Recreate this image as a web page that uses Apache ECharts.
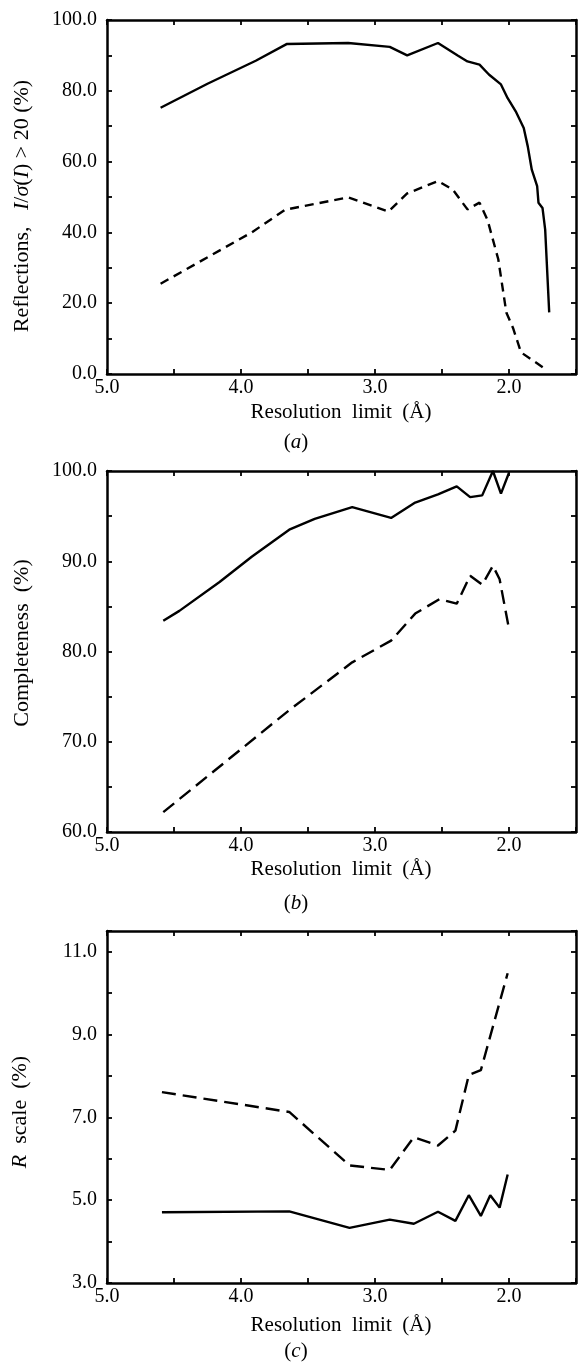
<!DOCTYPE html>
<html><head><meta charset="utf-8">
<script src="https://cdn.jsdelivr.net/npm/echarts@6/dist/echarts.min.js"></script>
<style>html,body{margin:0;padding:0;background:#fff}#c{width:579px;height:1363px}</style>
</head><body><div id="c"></div>
<script>
// Panel (a): reflections with I/sigma(I) > 20 (%)
const aSolidRes = [4.60, 4.25, 3.89, 3.66, 3.20, 2.89, 2.76, 2.53, 2.38, 2.31, 2.22, 2.15, 2.06, 2.01, 1.95, 1.89, 1.86, 1.83, 1.79, 1.78, 1.75, 1.73, 1.70];
const aSolidVal = [75.2, 82.0, 88.5, 93.2, 93.5, 92.4, 90.0, 93.5, 89.9, 88.3, 87.4, 84.6, 81.8, 77.9, 74.2, 69.5, 64.3, 57.7, 53.1, 48.4, 46.9, 40.8, 17.4];
const aDashRes = [4.60, 3.92, 3.67, 3.20, 2.90, 2.76, 2.53, 2.42, 2.31, 2.22, 2.16, 2.08, 2.02, 1.97, 1.91, 1.72];
const aDashVal = [25.5, 40.0, 46.4, 49.9, 45.9, 51.0, 54.5, 52.1, 46.5, 48.4, 43.5, 32.4, 17.4, 13.0, 6.1, 1.2];
// Panel (b): completeness (%)
const bSolidRes = [4.58, 4.46, 4.16, 3.92, 3.64, 3.45, 3.17, 2.88, 2.70, 2.53, 2.39, 2.29, 2.20, 2.12, 2.06, 2.00];
const bSolidVal = [83.4, 84.5, 87.7, 90.5, 93.5, 94.7, 96.0, 94.8, 96.5, 97.4, 98.3, 97.1, 97.3, 100.0, 97.5, 99.8];
const bDashRes = [4.58, 3.64, 3.17, 2.88, 2.70, 2.52, 2.39, 2.29, 2.20, 2.12, 2.07, 2.00];
const bDashVal = [62.2, 73.5, 78.8, 81.2, 84.2, 85.8, 85.3, 88.4, 87.4, 89.5, 88.0, 82.5];
// Panel (c): R scale (%)
const cSolidRes = [4.59, 3.64, 3.19, 2.89, 2.71, 2.53, 2.40, 2.30, 2.21, 2.14, 2.07, 2.01];
const cSolidVal = [4.71, 4.73, 4.33, 4.53, 4.43, 4.72, 4.50, 5.12, 4.62, 5.12, 4.82, 5.62];
const cDashRes = [4.59, 3.64, 3.19, 2.89, 2.71, 2.53, 2.40, 2.30, 2.21, 2.01];
const cDashVal = [7.61, 7.13, 5.84, 5.73, 6.52, 6.32, 6.68, 8.02, 8.14, 10.48];

// Axis scales / tick labels
const xMin = 1.5, xMax = 5.0, xStep = 0.5;
const xLabelValues = [2.0, 3.0, 4.0, 5.0];
const yScales = [
  {min: 0, max: 100, step: 10, labels: [0, 20, 40, 60, 80, 100]},
  {min: 60, max: 100, step: 5, labels: [60, 70, 80, 90, 100]},
  {min: 3, max: 11.5, step: 1, labels: [3, 5, 7, 9, 11]}
];
const xTitle = 'Resolution  limit  (Å)';
const captions = ['a', 'b', 'c'];

const FONT = 'Liberation Serif, Times New Roman, serif';
const pairs = (xs, ys) => xs.map((x, i) => [x, ys[i]]);

const grids = [
  {left: 107, top: 20, width: 469, height: 354},
  {left: 107, top: 471, width: 469, height: 361},
  {left: 107, top: 931, width: 469, height: 352}
];

const lineW = 2.5;
const xAxes = [], yAxes = [];
grids.forEach((g, i) => {
  const base = {
    type: 'value', gridIndex: i, min: xMin, max: xMax, interval: xStep, inverse: true,
    splitLine: {show: false},
    axisLine: {show: true, onZero: false, lineStyle: {color: '#000', width: lineW}},
    axisTick: {show: true, inside: true, length: 5, lineStyle: {color: '#000', width: 1.8}}
  };
  xAxes.push(Object.assign({}, base, {
    position: 'bottom',
    axisLabel: {show: true, margin: 4, color: '#000', fontFamily: FONT, fontSize: 20,
      formatter: v => xLabelValues.includes(v) ? v.toFixed(1) : ''}
  }));
  xAxes.push(Object.assign({}, base, {position: 'top', axisLabel: {show: false}}));
  const s = yScales[i];
  const ybase = {
    type: 'value', gridIndex: i, min: s.min, max: s.max, interval: s.step,
    splitLine: {show: false},
    axisLine: {show: true, onZero: false, lineStyle: {color: '#000', width: lineW}},
    axisTick: {show: true, inside: true, length: 5, lineStyle: {color: '#000', width: 1.8}}
  };
  yAxes.push(Object.assign({}, ybase, {
    position: 'left',
    axisLabel: {show: true, margin: 10, color: '#000', fontFamily: FONT, fontSize: 20,
      showMaxLabel: true,
      formatter: v => s.labels.includes(v) ? v.toFixed(1) : ''}
  }));
  yAxes.push(Object.assign({}, ybase, {position: 'right', axisLabel: {show: false}}));
});

const mk = (i, data, dashed, dash) => ({
  type: 'line', xAxisIndex: 2 * i, yAxisIndex: 2 * i, data: data,
  showSymbol: false, symbol: 'none', silent: true, animation: false,
  lineStyle: {color: '#000', width: 2.4, type: dashed ? dash : 'solid'}
});

const series = [
  mk(0, pairs(aSolidRes, aSolidVal), false),
  mk(0, pairs(aDashRes, aDashVal), true, [9, 6]),
  mk(1, pairs(bSolidRes, bSolidVal), false),
  mk(1, pairs(bDashRes, bDashVal), true, [14, 7]),
  mk(2, pairs(cSolidRes, cSolidVal), false),
  mk(2, pairs(cDashRes, cDashVal), true, [14, 7])
];

const mkRich = (fs) => ({
  n: {fontFamily: FONT, fontSize: fs, fill: '#000', color: '#000'},
  i: {fontFamily: FONT, fontSize: fs, fontStyle: 'italic', fill: '#000', color: '#000'}
});
const txt = (x, y, text, fs, rot) => ({
  type: 'text', x: x, y: y, rotation: rot || 0, silent: true,
  style: {text: text, rich: mkRich(fs), font: fs + 'px ' + FONT, fill: '#000', align: 'center', verticalAlign: 'middle'}
});

const xTitleY = [412, 869, 1325];
const capY = [442, 903, 1351];
const graphic = [];
xTitleY.forEach((y, i) => {
  graphic.push(txt(341, y, '{n|' + xTitle + '}', 21));
  graphic.push(txt(296, capY[i], '{n|(}{i|' + captions[i] + '}{n|)}', 21));
});
graphic.push(txt(22, 206, '{n|Reflections,   }{i|I}{n|/}{i|σ}{n|(}{i|I}{n|) > 20 (%)}', 22, Math.PI / 2));
graphic.push(txt(22, 643, '{n|Completeness  (%)}', 22, Math.PI / 2));
graphic.push(txt(20, 1112, '{i|R}{n|  scale  (%)}', 22, Math.PI / 2));

const chart = echarts.init(document.getElementById('c'), null, {renderer: 'canvas'});
chart.setOption({
  animation: false,
  backgroundColor: '#fff',
  grid: grids,
  xAxis: xAxes,
  yAxis: yAxes,
  series: series,
  graphic: graphic
});
</script>
</body></html>
